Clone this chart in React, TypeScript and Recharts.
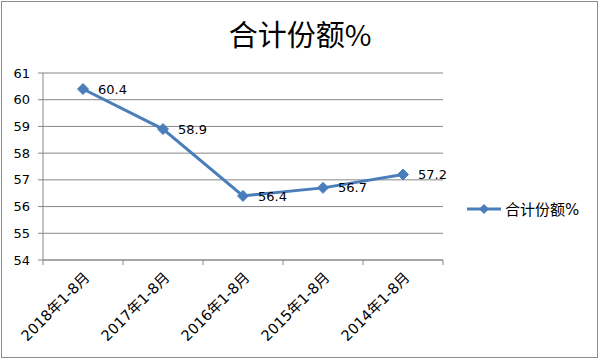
import { LineChart, Line, XAxis, YAxis, CartesianGrid, LabelList, Legend } from "recharts";

const categories = ["2018年1-8月", "2017年1-8月", "2016年1-8月", "2015年1-8月", "2014年1-8月"];
const shareValues = [60.4, 58.9, 56.4, 56.7, 57.2];
const yTicks = [54, 55, 56, 57, 58, 59, 60, 61];
const seriesName = "合计份额%";
const title = "合计份额%";

const BLUE = "#4A7EBB";
const GRID = "#878787";
const FONT = "'DejaVu Sans', 'Noto Sans CJK SC', sans-serif";

// x is the band centre, so tick lines can sit on the band edges
const data = categories.map((c, i) => ({ name: c, x: i + 0.5, value: shareValues[i] }));
const xTicks: number[] = [];
for (let i = 0; i <= categories.length; i++) {
  xTicks.push(i);
  if (i < categories.length) xTicks.push(i + 0.5);
}

function Diamond(props: any) {
  const { cx, cy } = props;
  if (cx == null || cy == null) return null;
  const r = 5.5;
  return (
    <polygon
      points={`${cx},${cy - r} ${cx + r},${cy} ${cx},${cy + r} ${cx - r},${cy}`}
      fill={BLUE}
      stroke={BLUE}
      strokeWidth={1}
    />
  );
}

function XTick(props: any) {
  const { x, y, payload } = props;
  const v = payload.value as number;
  if (Number.isInteger(v)) {
    return <line x1={x} y1={y} x2={x} y2={y + 5} stroke={GRID} />;
  }
  const label = categories[Math.floor(v)];
  const ax = x + 4;
  const ay = y + 15;
  return (
    <text
      x={ax}
      y={ay}
      dy="0.35em"
      textAnchor="end"
      fontSize={14.5}
      fontFamily={FONT}
      fill="#000"
      transform={`rotate(-45, ${ax}, ${ay})`}
    >
      {label}
    </text>
  );
}

function LegendBox() {
  return (
    <div style={{ display: "flex", alignItems: "center", fontFamily: FONT, fontSize: 15, color: "#000" }}>
      <svg width={36} height={14}>
        <line x1={1} y1={7} x2={35} y2={7} stroke={BLUE} strokeWidth={3} />
        <polygon points="18,2 23,7 18,12 13,7" fill={BLUE} />
      </svg>
      <span style={{ marginLeft: 3 }}>{seriesName}</span>
    </div>
  );
}

export default function App() {
  return (
    <div style={{ position: "relative", width: 600, height: 359, background: "#fff" }}>
      <style>{`body{margin:0}`}</style>
      <div
        style={{
          position: "absolute",
          left: 0,
          top: 14,
          width: 600,
          textAlign: "center",
          fontFamily: "'Noto Sans CJK SC', sans-serif",
          fontSize: 29,
          color: "#000",
          lineHeight: "38px",
        }}
      >
        {title}
      </div>
      <LineChart
        width={600}
        height={359}
        data={data}
        margin={{ top: 73, right: 157, left: 3, bottom: 69 }}
      >
        <CartesianGrid vertical={false} stroke={GRID} strokeWidth={1} />
        <XAxis
          dataKey="x"
          type="number"
          domain={[0, categories.length]}
          ticks={xTicks}
          interval={0}
          height={30}
          tickSize={0}
          tickMargin={0}
          tickLine={false}
          axisLine={{ stroke: GRID }}
          tick={<XTick />}
        />
        <YAxis
          domain={[54, 61]}
          ticks={yTicks}
          interval={0}
          width={40}
          tickSize={5}
          tickMargin={8}
          axisLine={{ stroke: GRID }}
          tickLine={{ stroke: GRID }}
          tick={{ fill: "#000", fontSize: 13, fontFamily: FONT }}
        />
        <Legend
          layout="horizontal"
          verticalAlign="middle"
          align="center"
          content={<LegendBox />}
          wrapperStyle={{ left: 466, top: 198, width: 132 }}
        />
        <Line
          type="linear"
          dataKey="value"
          name={seriesName}
          stroke={BLUE}
          strokeWidth={3}
          dot={<Diamond />}
          activeDot={false}
          isAnimationActive={false}
        >
          <LabelList
            dataKey="value"
            position="right"
            offset={15}
            fill="#000"
            fontSize={13}
            fontFamily={FONT}
          />
        </Line>
      </LineChart>
      <div
        style={{
          position: "absolute",
          left: 1,
          top: 1,
          width: 597,
          height: 357,
          boxSizing: "border-box",
          border: "1px solid #8c8c8c",
          pointerEvents: "none",
        }}
      />
    </div>
  );
}
